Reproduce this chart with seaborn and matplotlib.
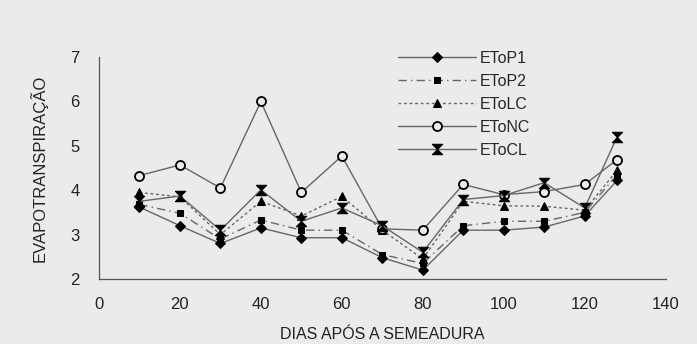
import numpy as np
import pandas as pd
import matplotlib
matplotlib.use("Agg")
import matplotlib.pyplot as plt
import seaborn as sns

sns.set_style("white")
plt.rcParams['font.family'] = ['Liberation Sans', 'DejaVu Sans']

# dados
dias = [10, 20, 30, 40, 50, 60, 70, 80, 90, 100, 110, 120, 128]
etop1 = [3.62, 3.20, 2.80, 3.15, 2.93, 2.93, 2.48, 2.20, 3.10, 3.10, 3.17, 3.42, 4.22]
etop2 = [3.68, 3.48, 2.90, 3.33, 3.10, 3.10, 2.55, 2.35, 3.20, 3.30, 3.30, 3.50, 4.35]
etolc = [3.95, 3.85, 3.00, 3.75, 3.42, 3.86, 3.10, 2.45, 3.75, 3.65, 3.64, 3.55, 4.45]
etonc = [4.33, 4.57, 4.05, 6.00, 3.95, 4.77, 3.13, 3.10, 4.13, 3.90, 3.97, 4.13, 4.69]
etocl = [3.75, 3.87, 3.10, 4.01, 3.30, 3.60, 3.20, 2.60, 3.79, 3.88, 4.17, 3.60, 5.20]
nomes = ["EToP1", "EToP2", "EToLC", "EToNC", "EToCL"]

bg = "#ebebeb"
fig = plt.figure(figsize=(6.97, 3.44), dpi=100, facecolor=bg)
ax = fig.add_axes([0.142, 0.189, 0.813, 0.645])
ax.set_facecolor(bg)

ampulheta = [(-1, 1), (1, 1), (-1, -1), (1, -1), (-1, 1)]
estilos = [
    dict(marker="D", markersize=5.5, linestyle="-", mfc="black", mec="black"),
    dict(marker="s", markersize=4.5, linestyle=(0, (6, 3, 1, 3)), mfc="black", mec="black"),
    dict(marker="^", markersize=5.5, linestyle=(0, (2, 2)), mfc="black", mec="black"),
    dict(marker="o", markersize=6.5, linestyle="-", mfc=bg, mec="black", mew=1.3),
    dict(marker=ampulheta, markersize=7.5, linestyle="-", mfc="black", mec="black"),
]
series = [etop1, etop2, etolc, etonc, etocl]
for nome, vals, st in zip(nomes, series, estilos):
    sns.lineplot(x=dias, y=vals, ax=ax, color="#666666", linewidth=1.0,
                 label=nome, **st)

ax.set_xlim(0, 140)
ax.set_ylim(2, 7)
ax.set_xticks(np.arange(0, 141, 20))
ax.set_yticks(np.arange(2, 8, 1))
ax.tick_params(direction="inout", length=8, width=0.8, colors="#555555",
               labelsize=12, labelcolor="#222222")
ax.tick_params(axis="x", pad=9)
ax.tick_params(axis="y", pad=10)
for s in ["top", "right"]:
    ax.spines[s].set_visible(False)
for s in ["left", "bottom"]:
    ax.spines[s].set_color("#555555")
    ax.spines[s].set_linewidth(0.9)

ax.set_xlabel("DIAS APÓS A SEMEADURA", fontsize=11.5, color="#222222", labelpad=11)
ax.set_ylabel("EVAPOTRANSPIRAÇÃO", fontsize=12, color="#222222", labelpad=16)

leg = ax.legend(loc="upper left", bbox_to_anchor=(390 / 697, 1 - 43 / 344),
                bbox_transform=fig.transFigure, frameon=False, fontsize=11.5,
                handlelength=4.9, labelspacing=0.5, handletextpad=0.2,
                borderpad=0)

fig.savefig("out.png", dpi=100, facecolor=bg)
